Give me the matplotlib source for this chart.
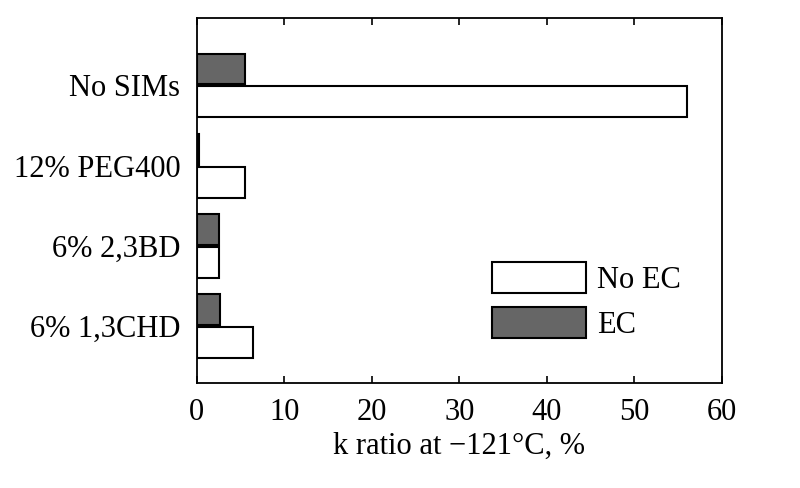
import matplotlib
matplotlib.use("Agg")
import matplotlib.pyplot as plt
import numpy as np

categories = ["6% 1,3CHD", "6% 2,3BD", "12% PEG400", "No SIMs"]
no_ec = [6.4, 2.5, 5.5, 56.0]
ec = [2.7, 2.5, 0.2, 5.5]
xticks = [0, 10, 20, 30, 40, 50, 60]

plt.rcParams['font.family'] = ['Liberation Serif', 'DejaVu Serif']
plt.rcParams['font.size'] = 22

fig = plt.figure(figsize=(8, 4.88), dpi=100)
ax = fig.add_axes([0.246, 0.215, 0.6565, 0.748])

y = np.arange(len(categories))
h = 0.385
off = 0.205
ax.barh(y - off, no_ec, height=h, color='white', edgecolor='black', linewidth=1.5, label='No EC')
ax.barh(y + off, ec, height=h, color='#666666', edgecolor='black', linewidth=1.5, label='EC')

ax.set_xlim(0, 60)
ax.set_ylim(-0.71, 3.84)
ax.set_xticks(xticks)
ax.set_yticks(y)
ax.set_yticklabels(categories)
ax.tick_params(axis='x', direction='in', top=True, bottom=True, length=5, width=1.2, pad=11)
ax.tick_params(axis='y', length=0, pad=12)
for s in ax.spines.values():
    s.set_linewidth(1.3)
ax.set_xlabel("k ratio at \u2212121\u00b0C, %", labelpad=3)

ax.legend(loc='upper left', bbox_to_anchor=(0.562, 0.332), frameon=False,
          handlelength=3.07, handleheight=1.2, handletextpad=0.36,
          labelspacing=0.4, borderpad=0, borderaxespad=0)

fig.savefig("out.png", dpi=100)
